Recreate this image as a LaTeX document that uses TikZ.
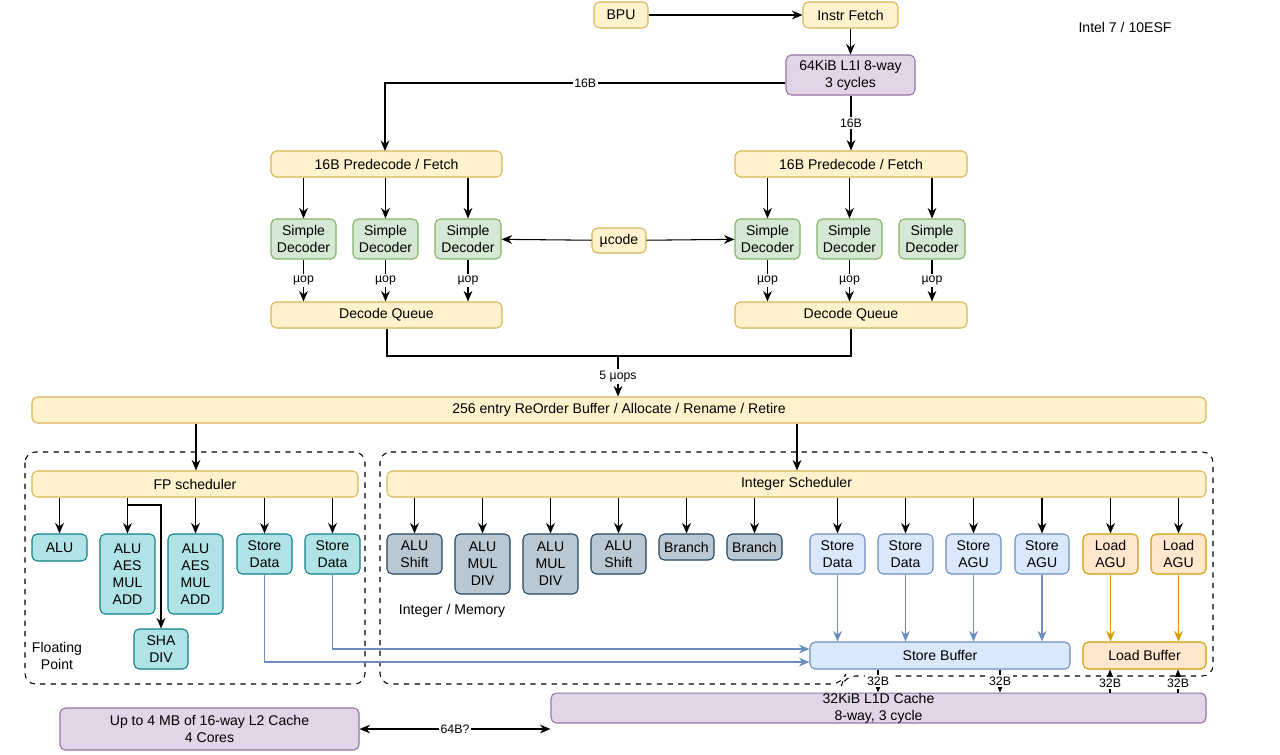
\documentclass[tikz,border=0pt]{standalone}
\usepackage{fontspec}
\setmainfont{Liberation Sans}
\usetikzlibrary{arrows.meta}
\tikzset{
  box/.style={draw, rounded corners=3pt, align=center, inner sep=0pt, line width=0.6pt, font=\fontsize{8}{9.6}\selectfont},
  yel/.style={box, fill=yellow!20!orange!12, draw=yellow!60!black, fill={rgb,255:red,255;green,242;blue,204}, draw={rgb,255:red,214;green,182;blue,86}},
  pur/.style={box, fill={rgb,255:red,225;green,213;blue,231}, draw={rgb,255:red,150;green,115;blue,166}},
  grn/.style={box, fill={rgb,255:red,213;green,232;blue,212}, draw={rgb,255:red,130;green,179;blue,102}},
  teal/.style={box, fill={rgb,255:red,176;green,227;blue,230}, draw={rgb,255:red,14;green,128;blue,136}},
  gry/.style={box, fill={rgb,255:red,186;green,200;blue,211}, draw={rgb,255:red,35;green,68;blue,93}},
  blu/.style={box, fill={rgb,255:red,218;green,232;blue,252}, draw={rgb,255:red,108;green,142;blue,191}},
  org/.style={box, fill={rgb,255:red,255;green,230;blue,204}, draw={rgb,255:red,215;green,155;blue,0}},
  arr/.style={-{Stealth[length=6pt,width=5pt]}, line width=0.6pt},
  barr/.style={arr, draw={rgb,255:red,108;green,142;blue,191}},
  oarr/.style={arr, draw={rgb,255:red,215;green,155;blue,0}},
  lbl/.style={font=\fontsize{7}{8}\selectfont, fill=white, inner sep=1pt},
  region/.style={dashed, rounded corners=6pt, line width=0.6pt}
}
% box by corners: style, name, x1, y1, x2, y2, text
\newcommand\B[7]{\node[#1, minimum width={(#5-#3)*0.02cm}, minimum height={(#6-#4)*0.02cm}] (#2) at ({(#3+#5)/2},{(#4+#6)/2}) {#7};}
\begin{document}
\begin{tikzpicture}[x=0.02cm, y=-0.02cm]
\useasboundingbox (0,0) rectangle (1280,754);
% front end
\B{yel}{bpu}{594}{2}{648}{28}{BPU}
\B{yel}{fetch}{803}{2}{898}{28}{Instr Fetch}
\B{pur}{lli}{786}{55}{915}{95}{64KiB L1I 8-way\\3 cycles}
\B{yel}{preL}{271}{151}{502}{177}{16B Predecode / Fetch}
\B{yel}{preR}{735}{151}{967}{177}{16B Predecode / Fetch}
\B{grn}{decLa}{271}{219}{336}{259}{Simple\\Decoder}
\B{grn}{decLb}{353}{219}{418}{259}{Simple\\Decoder}
\B{grn}{decLc}{435}{219}{501}{259}{Simple\\Decoder}
\B{grn}{decRa}{735}{219}{800}{259}{Simple\\Decoder}
\B{grn}{decRb}{817}{219}{882}{259}{Simple\\Decoder}
\B{grn}{decRc}{899}{219}{965}{259}{Simple\\Decoder}
\B{yel}{ucode}{592}{228}{646}{253}{µcode}
\B{yel}{dqL}{271}{302}{502}{328}{Decode Queue}
\B{yel}{dqR}{735}{302}{967}{328}{Decode Queue}
\B{yel}{rob}{32}{397}{1206}{423}{256 entry ReOrder Buffer / Allocate / Rename / Retire}
\node[font=\fontsize{8}{9.6}\selectfont] (intel) at (1125,27) {Intel 7 / 10ESF};
\draw[arr] (bpu) -- (fetch);
\draw[arr] (fetch) -- (fetch.south |- lli.north);
\draw[arr] (lli.west |- 0,83) -| node[lbl, pos=0.25] {16B} (385,151);
\draw[arr] (lli.south -| 851,0) -- node[lbl] {16B} (preR.north -| 851,0);
\foreach \d in {decLa,decLb,decLc}{
  \draw[arr] (\d.north |- preL.south) -- (\d.north);
  \draw[arr] (\d.south) -- node[lbl] {µop} (\d.south |- dqL.north);}
\foreach \d in {decRa,decRb,decRc}{
  \draw[arr] (\d.north |- preR.south) -- (\d.north);
  \draw[arr] (\d.south) -- node[lbl] {µop} (\d.south |- dqR.north);}
\draw[arr, {Stealth[length=6pt,width=5pt]}-] (decLc) -- (ucode);
\draw[arr] (ucode) -- (decRa);
\coordinate (join) at (618,356);
\draw[line width=0.6pt] (dqL.south -| 387,0) |- (join) -| (dqR.south -| 851,0);
\draw[arr] (join) -- node[lbl] {5 µops} (rob.north -| join);
% regions
\draw[region] (25,452) rectangle (365,684);
\draw[region] (380,452) -- (1213,452) -- (1213,676) -- (845,676) -- (842,684) -- (380,684) -- cycle;
\node[font=\fontsize{8}{9.6}\selectfont, align=center] (fplbl) at (57,656) {Floating\\Point};
\node[font=\fontsize{8}{9.6}\selectfont] (intlbl) at (452,611) {Integer / Memory};
% schedulers
\B{yel}{fps}{32}{471}{358}{497}{FP scheduler}
\B{yel}{ints}{387}{471}{1206}{497}{Integer Scheduler}
\draw[arr] (rob.south -| 196,0) -- (fps.north -| 196,0);
\draw[arr] (rob.south -| 797,0) -- (ints.north -| 797,0);
% FP units
\B{teal}{fpa}{32}{534}{87}{561}{ALU}
\B{teal}{fpb}{100}{534}{155}{614}{ALU\\AES\\MUL\\ADD}
\B{teal}{fpc}{168}{534}{223}{614}{ALU\\AES\\MUL\\ADD}
\B{teal}{fpd}{237}{534}{292}{574}{Store\\Data}
\B{teal}{fpe}{305}{534}{360}{574}{Store\\Data}
\B{teal}{sha}{134}{629}{188}{669}{SHA\\DIV}
\foreach \u in {fpa,fpb,fpc,fpd,fpe}
  \draw[arr] (\u.north |- fps.south) -- (\u.north);
\draw[arr] (127,505) -| (sha.north -| 161,0);
% integer units
\B{gry}{ia}{387}{534}{442}{574}{ALU\\Shift}
\B{gry}{ib}{455}{534}{510}{594}{ALU\\MUL\\DIV}
\B{gry}{ic}{523}{534}{578}{594}{ALU\\MUL\\DIV}
\B{gry}{id}{591}{534}{646}{574}{ALU\\Shift}
\B{gry}{ie}{659}{534}{714}{560}{Branch}
\B{gry}{if}{727}{534}{782}{560}{Branch}
\B{blu}{sda}{810}{534}{865}{574}{Store\\Data}
\B{blu}{sdb}{878}{534}{933}{574}{Store\\Data}
\B{blu}{saa}{946}{534}{1001}{574}{Store\\AGU}
\B{blu}{sab}{1015}{534}{1069}{574}{Store\\AGU}
\B{org}{laa}{1083}{534}{1138}{574}{Load\\AGU}
\B{org}{lab}{1151}{534}{1206}{574}{Load\\AGU}
\foreach \u in {ia,ib,ic,id,ie,if,sda,sdb,saa,sab,laa,lab}
  \draw[arr] (\u.north |- ints.south) -- (\u.north);
% buffers
\B{blu}{sbuf}{810}{642}{1070}{669}{Store Buffer}
\B{org}{lbuf}{1083}{642}{1206}{669}{Load Buffer}
\foreach \u in {sda,sdb,saa,sab}
  \draw[barr] (\u.south) -- (\u.south |- sbuf.north);
\foreach \u in {laa,lab}
  \draw[oarr] (\u.south) -- (\u.south |- lbuf.north);
\draw[barr] (fpd.south) |- (sbuf.west |- 0,662);
\draw[barr] (fpe.south) |- (sbuf.west |- 0,649);
% caches
\B{pur}{ltwo}{60}{708}{359}{750}{Up to 4 MB of 16-way L2 Cache\\4 Cores}
\B{pur}{lone}{551}{708}{1206}{708}{32KiB L1D Cache\\8-way, 3 cycle}
\draw[arr, {Stealth[length=6pt,width=5pt]}-{Stealth[length=6pt,width=5pt]}] (ltwo) -- node[lbl] {64B?} (ltwo -| lone.west);
\foreach \x in {878,1000}
  \draw[arr] (sbuf.south -| \x,0) -- node[lbl] {32B} (lone.north -| \x,0);
\foreach \x in {1110,1178}
  \draw[arr] (lone.north -| \x,0) -- node[lbl, pos=0.4] {32B} (lbuf.south -| \x,0);
\end{tikzpicture}
\end{document}
